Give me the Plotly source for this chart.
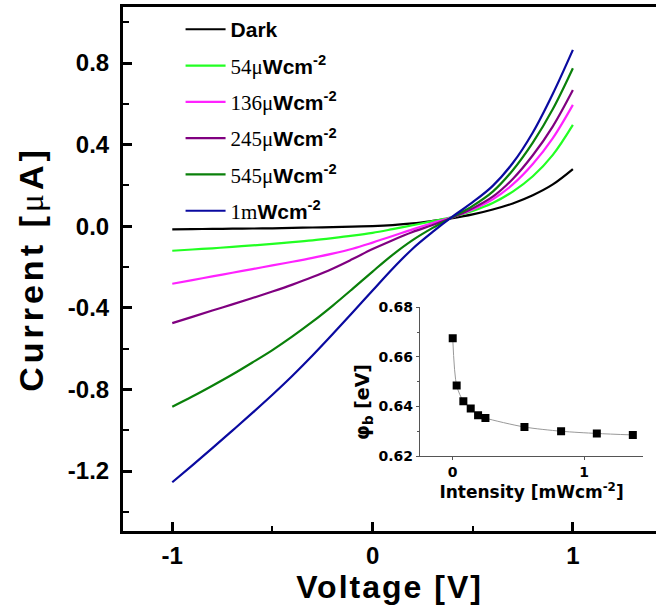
import plotly.graph_objects as go

# ---- main I-V data ----
voltage = [-1.0, -0.9, -0.8, -0.7, -0.6, -0.5, -0.4, -0.3, -0.2, -0.1, 0.0,
           0.1, 0.2, 0.3, 0.4, 0.5, 0.6, 0.7, 0.8, 0.9, 1.0]
i_dark = [-0.015, -0.014, -0.013, -0.012, -0.011, -0.010, -0.008, -0.006, -0.004, -0.002, 0.001,
          0.006, 0.014, 0.026, 0.040, 0.058, 0.082, 0.112, 0.152, 0.205, 0.280]
i_54 = [-0.120, -0.114, -0.108, -0.101, -0.094, -0.086, -0.078, -0.069, -0.058, -0.046, -0.032,
        -0.014, 0.005, 0.025, 0.046, 0.075, 0.114, 0.170, 0.245, 0.350, 0.497]
i_136 = [-0.282, -0.264, -0.246, -0.228, -0.210, -0.192, -0.174, -0.155, -0.134, -0.110, -0.080,
         -0.048, -0.015, 0.016, 0.045, 0.082, 0.132, 0.205, 0.305, 0.432, 0.595]
i_245 = [-0.475, -0.444, -0.413, -0.383, -0.352, -0.320, -0.286, -0.249, -0.208, -0.161, -0.112,
         -0.068, -0.028, 0.006, 0.043, 0.088, 0.145, 0.232, 0.348, 0.490, 0.668]
i_545 = [-0.885, -0.835, -0.782, -0.727, -0.668, -0.607, -0.540, -0.468, -0.390, -0.307, -0.222,
         -0.140, -0.068, -0.008, 0.045, 0.100, 0.170, 0.275, 0.410, 0.575, 0.775]
i_1m = [-1.255, -1.172, -1.088, -1.002, -0.915, -0.826, -0.733, -0.634, -0.530, -0.423, -0.315,
        -0.208, -0.110, -0.028, 0.048, 0.118, 0.198, 0.310, 0.460, 0.650, 0.865]

SERIF = "<span style='font-family:Liberation Serif;font-weight:normal'>"
series_names = [
    "Dark",
    SERIF + "54μ</span>Wcm<sup>-2</sup>",
    SERIF + "136μ</span>Wcm<sup>-2</sup>",
    SERIF + "245μ</span>Wcm<sup>-2</sup>",
    SERIF + "545μ</span>Wcm<sup>-2</sup>",
    SERIF + "1m</span>Wcm<sup>-2</sup>",
]
series_values = [i_dark, i_54, i_136, i_245, i_545, i_1m]
series_colors = ["#000000", "#22FF22", "#FF22FF", "#800080", "#0A800A", "#0A0AA0"]

x_ticks = [-1, 0, 1]
x_ticktext = ["-1", "0", "1"]
x_minor = [-0.5, 0.5]
y_ticks = [0.8, 0.4, 0.0, -0.4, -0.8, -1.2]
y_ticktext = ["0.8", "0.4", "0.0", "-0.4", "-0.8", "-1.2"]
y_minor = [1.0, 0.6, 0.2, -0.2, -0.6, -1.0, -1.4]

# ---- inset data ----
intensity = [0.0, 0.030, 0.081, 0.137, 0.193, 0.249, 0.546, 0.825, 1.097, 1.371]
phi_b = [0.6675, 0.6484, 0.6421, 0.6392, 0.6364, 0.6353, 0.6317, 0.6300, 0.6291, 0.6285]
in_xticks = [0, 1]
in_xticktext = ["0", "1"]
in_yticks = [0.62, 0.64, 0.66, 0.68]
in_yticktext = ["0.62", "0.64", "0.66", "0.68"]
in_yminor = [0.63, 0.65, 0.67]

SANS = "Liberation Sans, Arial"
INSET_FONT = "DejaVu Sans, Verdana"

fig = go.Figure()
for name, vals, col in zip(series_names, series_values, series_colors):
    fig.add_trace(go.Scatter(
        x=voltage, y=vals, mode="lines", name=name, legendgroup=name,
        line=dict(color=col, width=2.2, shape="spline", smoothing=1.0),
    ))

fig.add_trace(go.Scatter(
    x=intensity, y=phi_b, mode="lines+markers", showlegend=False,
    xaxis="x2", yaxis="y2",
    line=dict(color="#999999", width=1, shape="spline", smoothing=0.8),
    marker=dict(symbol="square", size=8, color="black"),
))

fig.update_layout(
    width=656, height=608,
    margin=dict(l=123, r=0, t=7, b=77),
    paper_bgcolor="white", plot_bgcolor="white",
    font=dict(family=SANS, color="black"),
    legend=dict(
        x=0.108, y=0.996, xanchor="left", yanchor="top",
        bgcolor="rgba(0,0,0,0)", tracegroupgap=6, itemwidth=40,
        font=dict(family=SANS, size=21, weight="bold", color="black"),
    ),
    xaxis=dict(
        domain=[0, 1], range=[-1.246, 1.415], automargin=False,
        showline=True, linewidth=3, linecolor="black", mirror=True,
        showgrid=False, zeroline=False,
        ticks="inside", ticklen=9, tickwidth=2.5, tickcolor="black",
        tickmode="array", tickvals=x_ticks, ticktext=x_ticktext,
        minor=dict(tickmode="array", tickvals=x_minor, ticks="inside", ticklen=5, tickwidth=2, tickcolor="black"),
        tickfont=dict(family=SANS, size=24, weight="bold"),
        ticklabelstandoff=1,
        title=dict(text="<span style='letter-spacing:2px'>Voltage [V]</span>",
                   font=dict(family=SANS, size=32, weight="bold"), standoff=0),
    ),
    yaxis=dict(
        domain=[0, 1], range=[-1.494, 1.075], automargin=False,
        showline=True, linewidth=3, linecolor="black", mirror=False,
        showgrid=False, zeroline=False,
        ticks="inside", ticklen=9, tickwidth=2.5, tickcolor="black",
        tickmode="array", tickvals=y_ticks, ticktext=y_ticktext,
        minor=dict(tickmode="array", tickvals=y_minor, ticks="inside", ticklen=6, tickwidth=2, tickcolor="black"),
        tickfont=dict(family=SANS, size=24, weight="bold"),
        ticklabelstandoff=6,
        title=dict(text="<span style='letter-spacing:4px'>Current [" + SERIF + "μ</span>A]</span>",
                   font=dict(family=SANS, size=34, weight="bold"), standoff=14),
    ),
    xaxis2=dict(
        domain=[0.557, 0.976], anchor="y2", range=[-0.25, 1.45], automargin=False,
        showline=True, linewidth=1, linecolor="#555555", mirror=False,
        showgrid=False, zeroline=False,
        ticks="outside", ticklen=3, tickwidth=1, tickcolor="#555555",
        tickmode="array", tickvals=in_xticks, ticktext=in_xticktext,
        tickfont=dict(family=INSET_FONT, size=14, weight="bold"),
        title=dict(text="Intensity [mWcm<sup>-2</sup>]", font=dict(family=INSET_FONT, size=17, weight="bold"), standoff=0),
    ),
    yaxis2=dict(
        domain=[0.1431, 0.4269], anchor="x2", range=[0.62, 0.68], automargin=False,
        showline=True, linewidth=1, linecolor="#555555", mirror=False,
        showgrid=False, zeroline=False,
        ticks="outside", ticklen=3, tickwidth=1, tickcolor="#555555",
        tickmode="array", tickvals=in_yticks, ticktext=in_yticktext,
        minor=dict(tickmode="array", tickvals=in_yminor, ticks="outside", ticklen=2, tickwidth=1, tickcolor="#555555"),
        tickfont=dict(family=INSET_FONT, size=14, weight="bold"),
    ),
    annotations=[dict(
        text="φ<sub>b</sub> [eV]", xref="paper", yref="paper", x=0.450, y=0.246,
        xanchor="center", yanchor="middle", textangle=-90, showarrow=False,
        font=dict(family=INSET_FONT, size=19, weight="bold", color="black"),
    )],
)

fig.write_html("out.html", config={"displayModeBar": False},
               post_script="document.body.style.margin='0';document.body.style.overflow='hidden';")
